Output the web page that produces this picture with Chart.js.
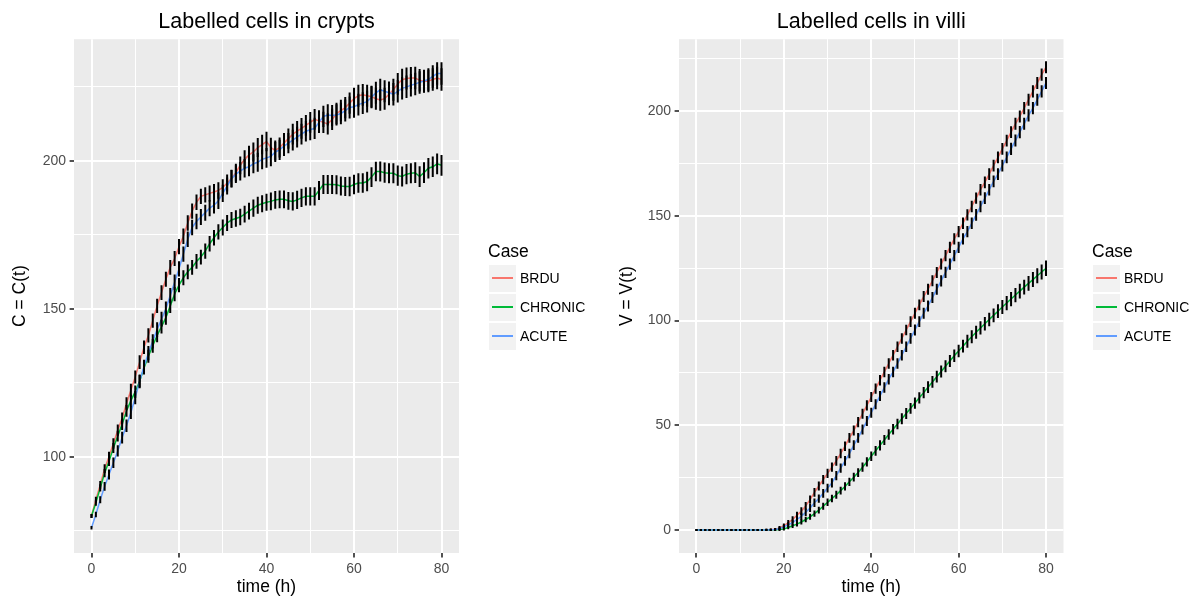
<!DOCTYPE html>
<html>
<head>
<meta charset="utf-8">
<title>Labelled cells</title>
<script src="https://cdn.jsdelivr.net/npm/chart.js@4.4.0/dist/chart.umd.min.js"></script>
<style>
  html, body { margin: 0; padding: 0; background: #ffffff; }
  #wrap { position: relative; width: 1196px; height: 598px; overflow: hidden;
          font-family: "Liberation Sans", Arial, Helvetica, sans-serif; }
  #wrap canvas { position: absolute; top: 0; }
  .lg-title { position: absolute; font-size: 17.5px; line-height: 22px; height: 22px; color: #000; white-space: nowrap; }
  .lg-key { position: absolute; width: 27px; height: 27px; background: #F2F2F2; }
  .lg-key span { position: absolute; left: 3px; right: 3px; top: 12.5px; height: 1.6px; }
  .lg-label { position: absolute; font-size: 14px; line-height: 18px; height: 18px; color: #000; white-space: nowrap; }
</style>
</head>
<body>
<div id="wrap">
  <canvas id="crypts" width="598" height="598" style="left:0px"></canvas>
  <canvas id="villi" width="598" height="598" style="left:598px"></canvas>
</div>
<script>
// ---- data -------------------------------------------------------------
const hours = [
   0,  1,  2,  3,  4,  5,  6,  7,  8,  9,
  10, 11, 12, 13, 14, 15, 16, 17, 18, 19,
  20, 21, 22, 23, 24, 25, 26, 27, 28, 29,
  30, 31, 32, 33, 34, 35, 36, 37, 38, 39,
  40, 41, 42, 43, 44, 45, 46, 47, 48, 49,
  50, 51, 52, 53, 54, 55, 56, 57, 58, 59,
  60, 61, 62, 63, 64, 65, 66, 67, 68, 69,
  70, 71, 72, 73, 74, 75, 76, 77, 78, 79,
  80
];

const caseNames = ['BRDU', 'CHRONIC', 'ACUTE'];

// tick labels
const timeTicks  = [0, 20, 40, 60, 80];
const timeMinor  = [10, 30, 50, 70];
const cryptTicks = [100, 150, 200];
const cryptMinor = [75, 125, 175, 225];
const villiTicks = [0, 50, 100, 150, 200];
const villiMinor = [25, 75, 125, 175, 225];

// labelled cells in crypts, C(t)
const cryptBRDU = [
   80.0,  85.5,  90.5,  96.0, 100.0, 104.5, 109.0, 113.0, 118.0, 122.5,
  127.0, 132.0, 137.0, 141.0, 146.0, 151.0, 155.5, 160.0, 164.0, 167.0,
  171.0, 174.5, 179.0, 183.0, 186.0, 188.0, 188.5, 189.0, 189.5, 190.0,
  191.0, 192.5, 194.0, 196.0, 198.5, 200.5, 202.0, 203.0, 204.5, 205.5,
  206.5, 204.5, 203.5, 204.5, 206.0, 207.5, 209.0, 210.0, 211.0, 212.0,
  213.0, 214.0, 213.5, 213.0, 212.5, 214.0, 216.0, 217.0, 218.0, 219.5,
  221.0, 222.0, 222.3, 222.0, 221.7, 221.0, 220.6, 221.0, 222.5, 224.0,
  226.0, 227.4, 227.8, 228.0, 228.0, 227.2, 226.8, 227.0, 227.5, 228.0,
  227.5
];
const cryptCHRONIC = [
   80.0,  84.5,  89.5,  94.5,  98.5, 103.0, 107.0, 111.0, 115.5, 119.0,
  122.0, 125.5, 130.0, 134.0, 137.5, 141.0, 144.0, 147.0, 151.0, 155.0,
  158.0, 160.5, 162.5, 164.0, 166.0, 167.5, 169.5, 172.0, 174.0, 176.0,
  177.5, 179.0, 180.0, 180.5, 181.0, 182.0, 183.0, 184.0, 185.0, 185.5,
  186.0, 186.3, 186.8, 187.0, 187.0, 186.5, 186.3, 186.8, 187.5, 188.0,
  188.0, 188.0, 190.0, 192.0, 192.0, 192.0, 191.9, 191.5, 191.3, 191.3,
  192.0, 192.5, 192.5, 193.0, 194.5, 196.4, 196.4, 196.0, 195.8, 195.8,
  195.0, 194.7, 195.5, 195.8, 196.0, 194.7, 196.0, 197.5, 198.0, 199.0,
  198.5
];
const cryptACUTE = [
   76.0,  80.5,  85.5,  90.0,  94.0,  98.0, 102.0, 106.5, 110.5, 115.0,
  120.0, 125.5, 130.5, 135.0, 139.0, 143.0, 146.5, 150.0, 154.5, 159.0,
  163.5, 168.5, 173.5, 177.5, 179.5, 181.0, 182.5, 184.0, 185.0, 186.5,
  189.0, 191.5, 194.0, 195.5, 196.5, 197.5, 198.0, 199.0, 199.5, 200.5,
  201.0, 201.5, 203.0, 203.7, 205.0, 206.0, 207.0, 208.0, 209.0, 210.0,
  210.5, 211.0, 213.0, 215.0, 215.5, 215.3, 215.5, 216.0, 217.0, 218.0,
  218.3, 219.0, 219.5, 220.0, 221.5, 223.0, 224.0, 223.5, 223.0, 222.5,
  223.5, 224.5, 225.0, 225.5, 226.0, 226.5, 227.0, 227.5, 228.5, 229.5,
  229.5
];

// half-widths of the error bars (crypts)
const cryptErrBRDU = [
  0.7, 1.0, 1.3, 1.5, 1.7, 1.8, 1.9, 2.0, 2.1, 2.2,
  2.2, 2.3, 2.3, 2.4, 2.4, 2.4, 2.5, 2.5, 2.5, 2.5,
  2.6, 2.6, 2.6, 2.6, 2.6, 2.6, 2.6, 2.7, 2.7, 2.8,
  2.8, 2.9, 2.9, 3.0, 3.0, 3.1, 3.1, 3.2, 3.2, 3.3,
  3.3, 3.3, 3.4, 3.4, 3.4, 3.4, 3.5, 3.5, 3.5, 3.5,
  3.5, 3.5, 3.6, 3.6, 3.6, 3.6, 3.6, 3.6, 3.6, 3.6,
  3.7, 3.7, 3.7, 3.7, 3.7, 3.7, 3.7, 3.7, 3.7, 3.7,
  3.7, 3.7, 3.7, 3.7, 3.8, 3.8, 3.8, 3.8, 3.8, 3.8,
  3.8
];
const cryptErrCHRONIC = [
  0.7, 1.0, 1.2, 1.4, 1.6, 1.7, 1.8, 1.9, 2.0, 2.0,
  2.1, 2.1, 2.2, 2.2, 2.3, 2.3, 2.3, 2.4, 2.4, 2.4,
  2.4, 2.5, 2.5, 2.5, 2.5, 2.5, 2.6, 2.6, 2.6, 2.6,
  2.7, 2.7, 2.7, 2.8, 2.8, 2.8, 2.8, 2.9, 2.9, 2.9,
  2.9, 3.0, 3.0, 3.0, 3.0, 3.0, 3.1, 3.1, 3.1, 3.1,
  3.1, 3.1, 3.2, 3.2, 3.2, 3.2, 3.2, 3.2, 3.2, 3.3,
  3.3, 3.3, 3.3, 3.3, 3.3, 3.3, 3.4, 3.4, 3.4, 3.4,
  3.4, 3.4, 3.4, 3.4, 3.5, 3.5, 3.5, 3.5, 3.5, 3.5,
  3.5
];
const cryptErrACUTE = [
  0.6, 0.9, 1.2, 1.5, 1.7, 1.8, 1.9, 2.0, 2.1, 2.2,
  2.2, 2.3, 2.3, 2.4, 2.4, 2.5, 2.5, 2.5, 2.5, 2.6,
  2.6, 2.6, 2.6, 2.6, 2.6, 2.7, 2.7, 2.7, 2.8, 2.8,
  2.9, 2.9, 3.0, 3.0, 3.1, 3.1, 3.2, 3.2, 3.2, 3.3,
  3.3, 3.3, 3.4, 3.4, 3.4, 3.4, 3.5, 3.5, 3.5, 3.5,
  3.5, 3.6, 3.6, 3.6, 3.6, 3.6, 3.6, 3.6, 3.7, 3.7,
  3.7, 3.7, 3.7, 3.7, 3.7, 3.7, 3.7, 3.7, 3.8, 3.8,
  3.8, 3.8, 3.8, 3.8, 3.8, 3.8, 3.8, 3.8, 3.8, 3.8,
  3.8
];

// labelled cells in villi, V(t)
const villiBRDU = [
    0.0,   0.0,   0.0,   0.0,   0.0,   0.0,   0.0,   0.0,   0.0,   0.0,
    0.0,   0.0,   0.0,   0.0,   0.0,   0.0,  0.05,   0.1,   0.3,   1.0,
    2.0,   3.5,   5.0,   7.0,   9.0,  11.5,  14.5,  18.0,  21.0,  24.0,
   27.0,  30.0,  33.0,  36.5,  40.0,  44.0,  47.5,  51.5,  55.5,  59.5,
   63.5,  67.5,  71.5,  75.5,  79.5,  83.5,  87.5,  91.5,  95.5,  99.5,
  103.5, 107.5, 111.5, 115.0, 119.0, 123.0, 127.0, 131.0, 135.0, 139.0,
  142.5, 146.5, 150.5, 154.5, 158.5, 162.5, 166.0, 170.0, 174.0, 178.0,
  182.0, 186.0, 190.0, 194.0, 197.5, 201.5, 205.5, 209.5, 213.5, 217.5,
  221.0
];
const villiCHRONIC = [
    0.0,   0.0,   0.0,   0.0,   0.0,   0.0,   0.0,   0.0,   0.0,   0.0,
    0.0,   0.0,   0.0,   0.0,   0.0,   0.0,   0.0,  0.05,   0.1,   0.2,
    0.5,   1.2,   2.0,   2.8,   3.8,   5.0,   6.3,   7.8,   9.5,  11.3,
   13.2,  15.0,  16.8,  18.8,  20.8,  23.0,  25.2,  27.4,  30.0,  32.5,
   35.2,  37.8,  40.4,  43.0,  45.6,  48.1,  50.6,  53.1,  55.6,  58.1,
   60.6,  63.1,  65.6,  68.2,  70.7,  73.2,  75.7,  78.2,  80.7,  83.2,
   85.5,  87.8,  90.1,  92.3,  94.4,  96.5,  98.5, 100.5, 102.5, 104.5,
  106.5, 108.4, 110.3, 112.2, 114.1, 116.0, 117.8, 119.6, 121.4, 123.2,
  125.0
];
const villiACUTE = [
    0.0,   0.0,   0.0,   0.0,   0.0,   0.0,   0.0,   0.0,   0.0,   0.0,
    0.0,   0.0,   0.0,   0.0,   0.0,   0.0,  0.03,   0.1,   0.2,   0.7,
    1.5,   2.5,   3.5,   5.0,   6.5,   8.5,  10.5,  13.0,  15.0,  17.5,
   20.0,  22.5,  26.0,  29.5,  33.0,  36.5,  40.5,  44.0,  48.0,  52.0,
   56.0,  60.0,  64.0,  68.0,  72.0,  75.5,  79.5,  83.5,  87.5,  91.5,
   95.5,  99.5, 103.5, 107.0, 111.0, 115.0, 119.0, 123.0, 127.0, 131.0,
  135.0, 139.0, 142.5, 146.5, 150.5, 154.5, 158.5, 162.5, 166.5, 170.0,
  174.0, 178.0, 182.0, 186.0, 190.0, 194.0, 198.0, 201.5, 205.5, 209.5,
  213.5
];

// half-widths of the error bars (villi)
const villiErrBRDU = [
  0.5, 0.5, 0.5, 0.5, 0.5, 0.5, 0.5, 0.5, 0.5, 0.5,
  0.5, 0.5, 0.5, 0.5, 0.5, 0.5, 0.5, 0.6, 0.7, 0.9,
  1.1, 1.3, 1.5, 1.7, 1.8, 1.9, 2.0, 2.1, 2.1, 2.2,
  2.2, 2.2, 2.3, 2.3, 2.3, 2.3, 2.4, 2.4, 2.4, 2.4,
  2.4, 2.4, 2.5, 2.5, 2.5, 2.5, 2.5, 2.5, 2.5, 2.6,
  2.6, 2.6, 2.6, 2.6, 2.6, 2.6, 2.6, 2.7, 2.7, 2.7,
  2.7, 2.7, 2.7, 2.7, 2.7, 2.8, 2.8, 2.8, 2.8, 2.8,
  2.8, 2.8, 2.8, 2.9, 2.9, 2.9, 2.9, 2.9, 2.9, 2.9,
  2.9
];
const villiErrCHRONIC = [
  0.5, 0.5, 0.5, 0.5, 0.5, 0.5, 0.5, 0.5, 0.5, 0.5,
  0.5, 0.5, 0.5, 0.5, 0.5, 0.5, 0.5, 0.5, 0.6, 0.7,
  0.8, 0.9, 1.0, 1.1, 1.2, 1.3, 1.4, 1.5, 1.6, 1.7,
  1.8, 1.8, 1.9, 1.9, 2.0, 2.0, 2.1, 2.1, 2.2, 2.2,
  2.3, 2.3, 2.4, 2.4, 2.5, 2.5, 2.5, 2.6, 2.6, 2.6,
  2.7, 2.7, 2.7, 2.8, 2.8, 2.8, 2.9, 2.9, 2.9, 3.0,
  3.0, 3.0, 3.1, 3.1, 3.1, 3.2, 3.2, 3.2, 3.3, 3.3,
  3.3, 3.4, 3.4, 3.4, 3.5, 3.5, 3.5, 3.6, 3.6, 3.6,
  3.7
];
const villiErrACUTE = [
  0.5, 0.5, 0.5, 0.5, 0.5, 0.5, 0.5, 0.5, 0.5, 0.5,
  0.5, 0.5, 0.5, 0.5, 0.5, 0.5, 0.5, 0.5, 0.6, 0.8,
  1.0, 1.2, 1.4, 1.5, 1.7, 1.8, 1.9, 2.0, 2.0, 2.1,
  2.1, 2.2, 2.2, 2.2, 2.3, 2.3, 2.3, 2.3, 2.4, 2.4,
  2.4, 2.4, 2.4, 2.5, 2.5, 2.5, 2.5, 2.5, 2.5, 2.6,
  2.6, 2.6, 2.6, 2.6, 2.6, 2.6, 2.7, 2.7, 2.7, 2.7,
  2.7, 2.7, 2.7, 2.8, 2.8, 2.8, 2.8, 2.8, 2.8, 2.8,
  2.8, 2.8, 2.9, 2.9, 2.9, 2.9, 2.9, 2.9, 2.9, 2.9,
  2.9
];

// ---- styling ------------------------------------------------------------
const FONT = '"Liberation Sans", Arial, Helvetica, sans-serif';
const caseColours = ['#F8766D', '#00BA38', '#619CFF'];
const PANEL_BG = '#EBEBEB';

// grey panel behind the plotting area, as in a ggplot theme
const panelBackground = {
  id: 'panelBackground',
  beforeDraw(chart) {
    const { ctx, chartArea } = chart;
    ctx.save();
    ctx.fillStyle = PANEL_BG;
    ctx.fillRect(chartArea.left, chartArea.top, chartArea.right - chartArea.left, chartArea.bottom - chartArea.top);
    ctx.restore();
  }
};

function toPoints(values) {
  return hours.map((t, i) => ({ x: t, y: values[i] }));
}

// each whisker is a vertical segment from value - err to value + err,
// separated from the next one by a gap point
function toWhiskers(values, errs) {
  const pts = [];
  hours.forEach((t, i) => {
    pts.push({ x: t, y: values[i] - errs[i] });
    pts.push({ x: t, y: values[i] + errs[i] });
    pts.push({ x: t, y: null });
  });
  return pts;
}

function gridScale(major, minor) {
  const all = major.concat(minor).sort((a, b) => a - b);
  const isMajor = ctx => ctx.tick && major.includes(ctx.tick.value);
  return {
    type: 'linear',
    afterBuildTicks(scale) { scale.ticks = all.map(v => ({ value: v })); },
    ticks: {
      autoSkip: false, maxRotation: 0, minRotation: 0,
      padding: 3.5,
      color: '#4D4D4D',
      font: { family: FONT, size: 14 },
      callback: v => (major.includes(v) ? String(v) : '')
    },
    grid: {
      color: '#FFFFFF',
      lineWidth: ctx => (isMajor(ctx) ? 2 : 1),
      tickLength: 4.4,
      tickWidth: 1.7,
      tickColor: ctx => (isMajor(ctx) ? '#333333' : 'rgba(0,0,0,0)')
    },
    border: { display: false }
  };
}

function makePanel(canvasId, spec) {
  const datasets = [];
  spec.series.forEach((vals, k) => {
    datasets.push({
      label: caseNames[k],
      data: toPoints(vals),
      borderColor: caseColours[k],
      backgroundColor: caseColours[k],
      borderWidth: 1.5,
      pointRadius: 0,
      tension: 0,
      order: 3 - k
    });
  });
  spec.series.forEach((vals, k) => {
    datasets.push({
      label: caseNames[k] + ' sd',
      data: toWhiskers(vals, spec.errors[k]),
      borderColor: '#000000',
      borderWidth: 2,
      borderCapStyle: 'butt',
      pointRadius: 0,
      spanGaps: false,
      order: 0
    });
  });

  const xScale = gridScale(timeTicks, timeMinor);
  Object.assign(xScale, {
    min: -4, max: 84,
    position: 'bottom',
    afterFit(scale) { scale.height = 45; },
    title: { display: true, text: 'time (h)', color: '#000000',
             font: { family: FONT, size: 17.5 }, padding: { top: 0, bottom: 0 } }
  });

  const yScale = gridScale(spec.yMajor, spec.yMinor);
  Object.assign(yScale, {
    min: spec.yMin, max: spec.yMax,
    position: 'left',
    afterFit(scale) { scale.width = spec.axisWidth; },
    title: { display: true, text: spec.yTitle, color: '#000000',
             font: { family: FONT, size: 17.5 }, padding: { top: spec.yTitlePad, bottom: 0 } }
  });

  return new Chart(document.getElementById(canvasId), {
    type: 'line',
    data: { datasets },
    options: {
      responsive: false,
      animation: false,
      devicePixelRatio: 1,
      events: [],
      layout: { padding: { top: 0, right: spec.rightRoom, bottom: 0, left: 0 } },
      scales: { x: xScale, y: yScale },
      plugins: {
        legend: { display: false },
        tooltip: { enabled: false },
        title: {
          display: true, fullSize: false,
          text: spec.title, color: '#000000',
          font: { family: FONT, size: 21.5, weight: 'normal' },
          padding: { top: 9.2, bottom: 4.2 }
        }
      }
    },
    plugins: [panelBackground]
  });
}

makePanel('crypts', {
  title: 'Labelled cells in crypts',
  yTitle: 'C = C(t)',
  series: [cryptBRDU, cryptCHRONIC, cryptACUTE],
  errors: [cryptErrBRDU, cryptErrCHRONIC, cryptErrACUTE],
  yMajor: cryptTicks, yMinor: cryptMinor,
  yMin: 67.5, yMax: 241.1,
  axisWidth: 74, yTitlePad: 9.5, rightRoom: 139
});

makePanel('villi', {
  title: 'Labelled cells in villi',
  yTitle: 'V = V(t)',
  series: [villiBRDU, villiCHRONIC, villiACUTE],
  errors: [villiErrBRDU, villiErrCHRONIC, villiErrACUTE],
  yMajor: villiTicks, yMinor: villiMinor,
  yMin: -11.0, yMax: 234.4,
  axisWidth: 81, yTitlePad: 18.5, rightRoom: 132.5
});

// ---- legends (ggplot style keys) -----------------------------------------
function makeLegend(left) {
  const wrap = document.getElementById('wrap');
  const title = document.createElement('div');
  title.className = 'lg-title';
  title.textContent = 'Case';
  title.style.left = (left - 1) + 'px';
  title.style.top = '240px';
  wrap.appendChild(title);
  caseNames.forEach((name, k) => {
    const key = document.createElement('div');
    key.className = 'lg-key';
    key.style.left = left + 'px';
    key.style.top = (264.5 + 29 * k) + 'px';
    const stroke = document.createElement('span');
    stroke.style.background = caseColours[k];
    key.appendChild(stroke);
    wrap.appendChild(key);
    const label = document.createElement('div');
    label.className = 'lg-label';
    label.textContent = name;
    label.style.left = (left + 31) + 'px';
    label.style.top = (264.5 + 29 * k + 4.5) + 'px';
    wrap.appendChild(label);
  });
}
makeLegend(489);
makeLegend(1093);
</script>
</body>
</html>
